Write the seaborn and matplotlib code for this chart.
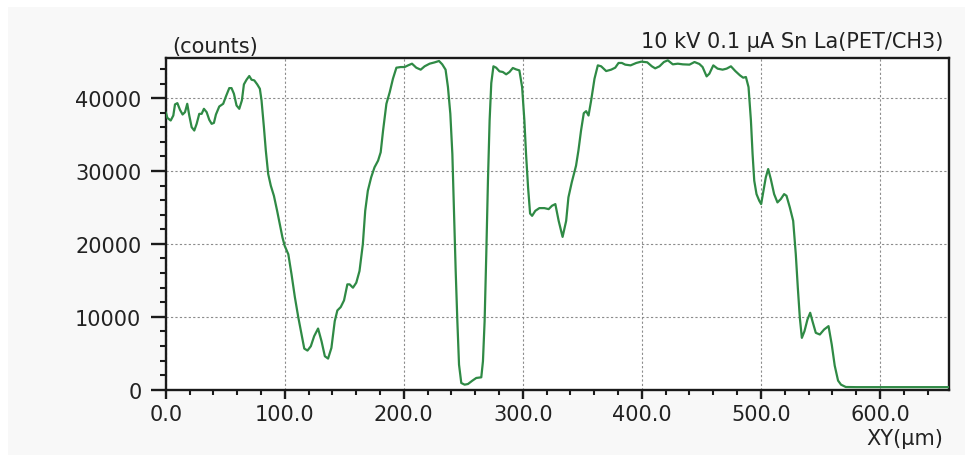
import matplotlib
matplotlib.use("Agg")
import matplotlib.pyplot as plt
import seaborn as sns
import pandas as pd
from matplotlib.ticker import MultipleLocator, FixedLocator, FixedFormatter
from matplotlib.patches import Rectangle

# Line scan: position along the scan (µm) and Sn La intensity (counts)
position_um = [
    0, 1.4, 4.2, 6.4, 7.8, 9.8, 12, 14.2, 16.2, 18.1, 19.8, 21.8, 24, 26, 28.2,
    30.2, 32.1, 34.4, 36.6, 38.6, 40.5, 42.2, 45, 48.3, 50.6, 53.4, 55.3, 57.3,
    59.5, 61.8, 64, 65.7, 67.9, 70.2, 72.1, 74.4, 76.9, 79.1, 80.5, 82.5, 84.1,
    86.1, 88.3, 90.9, 93.6, 95.9, 98.1, 100, 103, 105.7, 108.5, 111.3, 114.1,
    116.4, 119.1, 121.9, 124.7, 128, 130.9, 133.7, 136.4, 139.2, 142, 144.2,
    147, 149.8, 152.6, 154.5, 157.3, 160.1, 162.8, 165.6, 167.6, 169.8, 172.6,
    175.4, 178.4, 180.6, 182.6, 185.4, 188.2, 190.9, 193.8, 197.4, 200.7, 203.6,
    206.9, 210.5, 214.2, 217.5, 221.7, 225.9, 229.6, 232.3, 235.1, 237.1, 239.1,
    240.8, 242.2, 243.6, 245, 246.4, 248.3, 251.1, 253.9, 257.6, 260.9, 265.1,
    266.5, 267.9, 269.3, 270.7, 272.1, 273.5, 275.3, 277.6, 280.4, 283.2, 286,
    288.8, 291.6, 294.3, 297.1, 299.4, 301.3, 302.7, 304.4, 306.1, 307.8, 310.5,
    313.9, 318.1, 321.7, 324.5, 327.3, 330.1, 333.4, 336.4, 338.3, 341.1, 344.7,
    346.7, 348.9, 351.2, 353.2, 355.2, 357.4, 360.2, 363, 365.8, 370, 374.2,
    377.6, 380.4, 383.2, 386, 390.5, 395.3, 399.5, 404.5, 408.4, 411.2, 414.8,
    418.5, 421.8, 426, 430.2, 434.4, 440, 444.2, 448.3, 451, 454.4, 456.7, 460,
    463.6, 467.8, 471.2, 474.8, 478.5, 482.4, 485.1, 487.4, 489.6, 491.6, 493,
    494.4, 496.3, 498.6, 500.2, 501.9, 504.1, 506.1, 508.3, 511.1, 513.9, 516.7,
    519.5, 521.5, 524.3, 527.1, 529.3, 531, 532.7, 534.4, 536.6, 539.1, 541.4,
    543.3, 546.1, 549.5, 553.1, 556.8, 559.5, 562, 564.8, 567.3, 571.3, 580,
    600, 620, 640, 658,
]
counts = [
    38070, 37290, 36925, 37610, 39130, 39310, 38390, 37750, 38070, 39220, 37610,
    36010, 35550, 36470, 37840, 37840, 38530, 38070, 37020, 36470, 36600, 37750,
    38850, 39220, 40230, 41370, 41370, 40600, 38990, 38530, 39680, 41880, 42520,
    43030, 42520, 42430, 41880, 41280, 39680, 36010, 32800, 29590, 27980, 26600,
    24540, 22700, 20870, 19720, 18580, 15830, 12700, 10000, 7570, 5640, 5370,
    5960, 7340, 8390, 6650, 4590, 4270, 5730, 9400, 10870, 11330, 12250, 14450,
    14450, 13990, 14680, 16280, 19950, 24540, 27290, 29130, 30500, 31420, 32570,
    35550, 39220, 40820, 42660, 44170, 44260, 44260, 44490, 44720, 44170, 43900,
    44360, 44720, 44900, 45090, 44630, 43900, 41510, 37840, 32340, 24080, 16280,
    9400, 3440, 920, 690, 780, 1240, 1610, 1700, 3900, 9400, 18580, 28670, 36930,
    42060, 44360, 44170, 43670, 43580, 43260, 43580, 44130, 43940, 43800, 41510,
    36930, 32340, 27750, 24170, 23850, 24540, 24910, 24910, 24770, 25230, 25460,
    23160, 20960, 23160, 26380, 28440, 30730, 32800, 35550, 37930, 38210, 37610,
    39680, 42660, 44490, 44360, 43710, 43900, 44170, 44820, 44820, 44590, 44490,
    44820, 45000, 44910, 44360, 44080, 44360, 44950, 45180, 44630, 44720, 44630,
    44590, 44950, 44680, 44260, 42980, 43350, 44490, 44040, 43900, 44040, 44360,
    43710, 43120, 42800, 42890, 41510, 36930, 32340, 28670, 26830, 25920, 25460,
    27060, 29130, 30270, 28900, 26830, 25690, 26150, 26830, 26600, 25000, 23160,
    18580, 13990, 9860, 7110, 8030, 9630, 10550, 9400, 7800, 7570, 8260, 8720,
    6200, 3300, 1250, 690, 370, 350, 350, 350, 350, 350,
]

x_ticks = [0, 100, 200, 300, 400, 500, 600]
x_tick_labels = ["0.0", "100.0", "200.0", "300.0", "400.0", "500.0", "600.0"]
y_ticks = [0, 10000, 20000, 30000, 40000]
y_tick_labels = ["0", "10000", "20000", "30000", "40000"]

title_text = "10 kV 0.1 µA Sn La(PET/CH3)"
y_unit_text = "(counts)"
x_unit_text = "XY(µm)"

sns.set_style("white")
plt.rcParams["font.family"] = ["DejaVu Sans"]

W, H = 965, 456
fig = plt.figure(figsize=(W / 100, H / 100), dpi=100, facecolor="white")
fig.patches.append(Rectangle((8 / W, 0), 1, 1 - 8 / H, transform=fig.transFigure,
                             facecolor="#f8f8f8", edgecolor="none", zorder=-10))

left, right, top, bottom = 165.7, 949, 59, 390.7
ax = fig.add_axes([left / W, 1 - bottom / H, (right - left) / W, (bottom - top) / H])
ax.set_facecolor("white")

df = pd.DataFrame({"XY": position_um, "counts": counts})
sns.lineplot(data=df, x="XY", y="counts", ax=ax, color="#2f8a45",
             linewidth=1.6, sort=False, estimator=None, zorder=3)

ax.set_xlim(0, 658)
ax.set_ylim(0, 45500)
ax.set_xlabel("")
ax.set_ylabel("")

ax.xaxis.set_major_locator(FixedLocator(x_ticks))
ax.xaxis.set_major_formatter(FixedFormatter(x_tick_labels))
ax.xaxis.set_minor_locator(MultipleLocator(20))
ax.yaxis.set_major_locator(FixedLocator(y_ticks))
ax.yaxis.set_major_formatter(FixedFormatter(y_tick_labels))
ax.yaxis.set_minor_locator(MultipleLocator(2000))

text_color = "#222222"
fs = 15
ax.tick_params(axis="y", which="major", direction="out", length=11, width=1.7,
               color="#1a1a1a", labelsize=fs, labelcolor=text_color, pad=6.5,
               left=True)
ax.tick_params(axis="y", which="minor", direction="out", length=4.5, width=1.5,
               color="#1a1a1a", left=True)
ax.tick_params(axis="x", which="major", direction="out", length=6.5, width=1.7,
               color="#1a1a1a", labelsize=fs, labelcolor=text_color, pad=3.5,
               bottom=True)
ax.tick_params(axis="x", which="minor", direction="out", length=3.5, width=1.5,
               color="#1a1a1a", bottom=True)

for side in ["left", "right", "top", "bottom"]:
    ax.spines[side].set_visible(True)
    ax.spines[side].set_color("#1a1a1a")
    ax.spines[side].set_linewidth(1.7)

ax.set_axisbelow(True)
ax.grid(True, which="major", axis="both", color="#8c8c8c",
        linestyle=(0, (2, 2)), linewidth=0.8)

fig.text(172 / W, 1 - 53 / H, y_unit_text, ha="left", va="baseline",
         fontsize=fs, color=text_color)
fig.text(943 / W, 1 - 48 / H, title_text, ha="right", va="baseline",
         fontsize=fs, color=text_color)
fig.text(943 / W, 1 - 445 / H, x_unit_text, ha="right", va="baseline",
         fontsize=fs, color=text_color)

fig.savefig("out.png", dpi=100, facecolor=fig.get_facecolor())
